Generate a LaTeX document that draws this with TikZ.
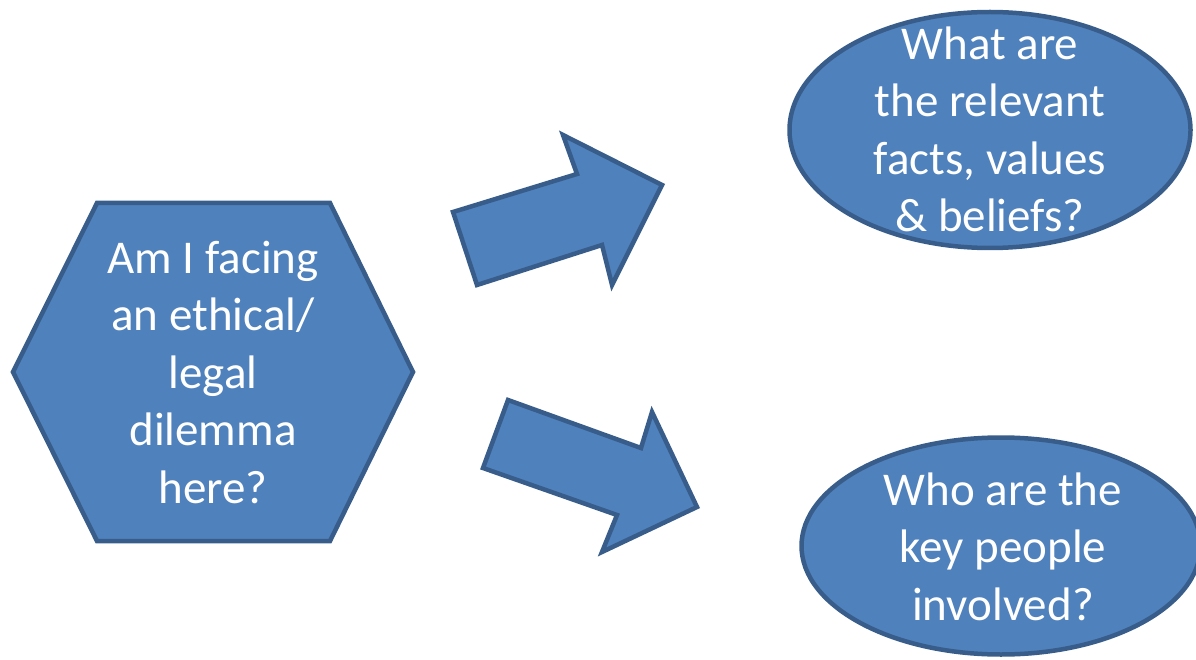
\documentclass[tikz,border=0pt]{standalone}
\usepackage{fontspec}
\setmainfont{Carlito}
\usetikzlibrary{shapes.geometric}
\definecolor{fillblue}{HTML}{4F81BD}
\definecolor{edgeblue}{HTML}{385D8A}
\begin{document}
\begin{tikzpicture}[x=1pt,y=-1pt,
  shapestyle/.style={fill=fillblue, draw=edgeblue, line width=4.5pt, line join=miter},
  txt/.style={text=white, font=\fontsize{47}{57.5}\selectfont, align=center, inner sep=0pt, anchor=base}]
\useasboundingbox (0,0) rectangle (1196,660);
\clip (0,0) rectangle (1196,660);
% hexagon
\draw[shapestyle] (97,203) coordinate (h1) -- (330,203) coordinate (h2) -- (413,372) coordinate (h3)
  -- (330,541) coordinate (h4) -- (97,541) coordinate (h5) -- (13,372) coordinate (h6) -- cycle;
% block arrows
\draw[shapestyle] (477,285) -- (453,212) -- (577,174) -- (563,135) -- (662,185) -- (612,285) -- (602,245) -- cycle;
\draw[shapestyle] (508,400) -- (483,468) -- (617,515) -- (602,552) -- (697,507) -- (652,412) -- (641,448) -- cycle;
% ellipses
\node[shapestyle, ellipse, minimum width=401pt, minimum height=236pt] (facts) at (990,130) {};
\node[shapestyle, ellipse, minimum width=399pt, minimum height=217pt] (people) at (1001,546) {};
% texts (base anchor = baseline of the last line)
\node[txt] (dilemma) at (213,503) {Am I facing\\an ethical/\\legal\\dilemma\\here?};
\node[txt] (factstext) at (990,232) {What are\\the relevant\\facts, values\\\& beliefs?};
\node[txt] (peopletext) at (1003,620) {Who are the\\key people\\involved?};
\end{tikzpicture}
\end{document}
